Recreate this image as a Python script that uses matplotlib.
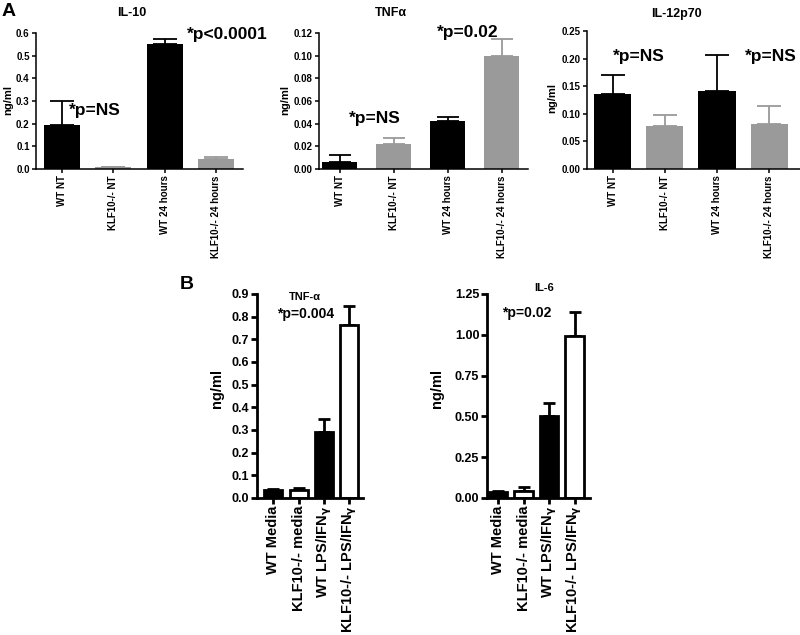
import matplotlib
matplotlib.use("Agg")
import matplotlib.pyplot as plt
import numpy as np

plt.rcParams['font.family'] = ['Liberation Sans', 'DejaVu Sans']
plt.rcParams['font.weight'] = 'bold'
plt.rcParams['mathtext.default'] = 'bf'

# panel A data
a_groups = ["WT NT", "KLF10-/- NT", "WT 24 hours", "KLF10-/- 24 hours"]
il10_mean = [0.195, 0.007, 0.55, 0.043]
il10_err = [0.105, 0.003, 0.025, 0.009]
tnfa_mean = [0.006, 0.022, 0.042, 0.100]
tnfa_err = [0.006, 0.005, 0.004, 0.015]
il12_mean = [0.135, 0.077, 0.142, 0.082]
il12_err = [0.035, 0.021, 0.065, 0.032]

# panel B data
b_groups = ["WT Media", "KLF10-/- media", "WT LPS/IFN$_{\\gamma}$", "KLF10-/- LPS/IFN$_{\\gamma}$"]
b_tnf_mean = [0.035, 0.035, 0.29, 0.765]
b_tnf_err = [0.005, 0.010, 0.06, 0.08]
b_il6_mean = [0.035, 0.045, 0.50, 0.99]
b_il6_err = [0.005, 0.020, 0.08, 0.15]

W, H = 800, 635
GRAY = '#9a9a9a'

fig = plt.figure(figsize=(W / 100, H / 100), dpi=100)


def px_axes(x0, x1, ytop, ybot):
    return fig.add_axes([x0 / W, 1 - ybot / H, (x1 - x0) / W, (ybot - ytop) / H])


def ptext(x, y, s, **kw):
    fig.text(x / W, 1 - y / H, s, ha='center', va='center', fontweight='bold', **kw)


def style(ax, lw, ticklen, fs_y, fs_x):
    for s in ['top', 'right']:
        ax.spines[s].set_visible(False)
    for s in ['left', 'bottom']:
        ax.spines[s].set_linewidth(lw)
    ax.tick_params(direction='out', length=ticklen, width=lw, pad=1.5)
    ax.tick_params(axis='y', labelsize=fs_y)
    ax.tick_params(axis='x', labelsize=fs_x)


def panel_a(ax, means, errs, ymax, step, fmt, xlim, width):
    x = np.arange(len(means))
    colors = ['black', GRAY, 'black', GRAY]
    ax.bar(x, means, width=width, color=colors, edgecolor='none', zorder=2)
    for xi, m, e, c in zip(x, means, errs, colors):
        ax.errorbar(xi, m, yerr=[[0], [e]], fmt='none', ecolor=c, elinewidth=1.3,
                    capsize=width * 12, capthick=1.3, zorder=1)
    ax.set_xlim(*xlim)
    ax.set_ylim(0, ymax)
    ax.set_yticks(np.arange(0, ymax + step / 2, step))
    ax.yaxis.set_major_formatter(plt.FormatStrFormatter(fmt))
    ax.set_xticks(x)
    ax.set_xticklabels(a_groups, rotation=90, va='top')
    style(ax, 1.1, 3, 7, 7)


def panel_b(ax, means, errs, ymax, step, fmt, xlim):
    x = np.arange(len(means))
    colors = ['black', 'white', 'black', 'white']
    ax.bar(x, means, width=0.72, color=colors, edgecolor='black', linewidth=2, zorder=2)
    ax.errorbar(x, means, yerr=[np.zeros(4), errs], fmt='none', ecolor='black',
                elinewidth=2, capsize=4.5, capthick=2, zorder=1)
    ax.set_xlim(*xlim)
    ax.set_ylim(0, ymax)
    ax.set_yticks(np.arange(0, ymax + step / 2, step))
    ax.yaxis.set_major_formatter(plt.FormatStrFormatter(fmt))
    ax.set_xticks(x)
    ax.set_xticklabels(b_groups, rotation=90, va='top')
    style(ax, 2, 4, 9, 10.5)


# A: IL-10
ax1 = px_axes(36, 243, 33, 169)
panel_a(ax1, il10_mean, il10_err, 0.6, 0.1, '%.1f', (-0.51, 3.53), 0.7)
# A: TNFa
ax2 = px_axes(319, 528, 33, 169)
panel_a(ax2, tnfa_mean, tnfa_err, 0.12, 0.02, '%.2f', (-0.38, 3.49), 0.65)
# A: IL-12p70
ax3 = px_axes(587, 800, 31, 169)
panel_a(ax3, il12_mean, il12_err, 0.25, 0.05, '%.2f', (-0.49, 3.59), 0.71)

# B: TNF-a
ax4 = px_axes(257, 363, 294, 498)
panel_b(ax4, b_tnf_mean, b_tnf_err, 0.9, 0.1, '%.1f', (-0.65, 3.55))
# B: IL-6
ax5 = px_axes(487, 590, 294, 498)
panel_b(ax5, b_il6_mean, b_il6_err, 1.25, 0.25, '%.2f', (-0.43, 3.6))

# panel letters
ptext(9, 12, "A", fontsize=14)
ptext(187, 284, "B", fontsize=14)

# titles
ptext(132, 13, "IL-10", fontsize=9)
ptext(391, 13, "TNF\u03b1", fontsize=9)
ptext(676, 14, "IL-12p70", fontsize=9)
ptext(305, 297, "TNF-\u03b1", fontsize=8)
ptext(544, 288, "IL-6", fontsize=8)

# y labels
ptext(8, 100, "ng/ml", fontsize=8, rotation=90)
ptext(285, 100, "ng/ml", fontsize=8, rotation=90)
ptext(552, 98, "ng/ml", fontsize=8, rotation=90)
ptext(217, 388, "ng/ml", fontsize=10.5, rotation=90)
ptext(437, 388, "ng/ml", fontsize=10.5, rotation=90)

# significance annotations
ptext(95, 111, "*p=NS", fontsize=12.5)
ptext(227, 35, "*p<0.0001", fontsize=12.5)
ptext(375, 118, "*p=NS", fontsize=12.5)
ptext(468, 32, "*p=0.02", fontsize=12.5)
ptext(639, 57, "*p=NS", fontsize=12.5)
ptext(771, 57, "*p=NS", fontsize=12.5)
ptext(306, 314, "*p=0.004", fontsize=10)
ptext(527, 313, "*p=0.02", fontsize=10)

fig.savefig("out.png", dpi=100)
